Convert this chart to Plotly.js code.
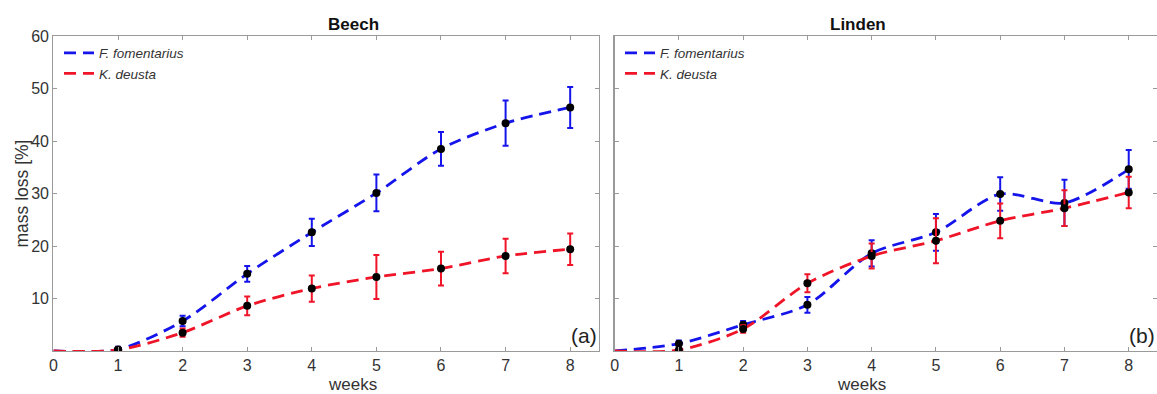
<!DOCTYPE html>
<html><head><meta charset="utf-8">
<script src="https://cdn.plot.ly/plotly-3.0.1.min.js"></script>
<style>html,body{margin:0;padding:0;background:#fff}</style>
</head><body>
<div id="chart" style="width:1157px;height:394px"></div>
<script>
// weeks
const weeks = [0, 1, 2, 3, 4, 5, 6, 7, 8];
const weeksMeasured = [1, 2, 3, 4, 5, 6, 7, 8];

// Beech
const beechFomMean = [0, 0.3, 5.7, 14.7, 22.6, 30.1, 38.5, 43.4, 46.4];
const beechFomErr  = [0.5, 1.0, 1.5, 2.6, 3.5, 3.2, 4.3, 3.9];
const beechDeuMean = [0, 0.2, 3.5, 8.6, 11.9, 14.1, 15.7, 18.1, 19.4];
const beechDeuErr  = [0.4, 0.8, 1.8, 2.5, 4.2, 3.2, 3.3, 3.0];

// Linden
const lindenFomMean = [0, 1.4, 5.0, 8.8, 18.6, 22.6, 29.9, 28.2, 34.6];
const lindenFomErr  = [0.6, 0.7, 1.5, 2.5, 3.5, 3.2, 4.4, 3.7];
const lindenDeuMean = [0, 0.2, 4.2, 12.9, 18.1, 21.0, 24.8, 27.2, 30.2];
const lindenDeuErr  = [0.4, 0.7, 1.7, 2.4, 4.3, 3.3, 3.4, 3.0];

const speciesNames = ['<i>F. fomentarius</i>', '<i>K. deusta</i>'];
const panelTitles = ['Beech', 'Linden'];
const panelLabels = ['(a)', '(b)'];
const xTicks = [0, 1, 2, 3, 4, 5, 6, 7, 8];
const yTicks = [10, 20, 30, 40, 50, 60];

const BLUE = 'rgb(20,20,235)';
const RED = 'rgb(240,20,40)';
const DASH = '12px,7px';

function lineTrace(y, color, name, xa, ya, legend) {
  return {x: weeks, y: y, mode: 'lines', name: name, xaxis: xa, yaxis: ya, legend: legend,
    line: {color: color, width: 2.8, dash: DASH, shape: 'spline', smoothing: 0.8}, hoverinfo: 'skip'};
}
function pointTrace(mean, err, color, xa, ya) {
  return {x: weeksMeasured, y: mean.slice(1), mode: 'markers', showlegend: false, xaxis: xa, yaxis: ya,
    marker: {color: '#000', size: 8},
    error_y: {type: 'data', array: err, visible: true, color: color, thickness: 2, width: 3}};
}

const data = [
  lineTrace(beechFomMean, BLUE, speciesNames[0], 'x', 'y', 'legend'),
  lineTrace(beechDeuMean, RED, speciesNames[1], 'x', 'y', 'legend'),
  pointTrace(beechFomMean, beechFomErr, BLUE, 'x', 'y'),
  pointTrace(beechDeuMean, beechDeuErr, RED, 'x', 'y'),
  lineTrace(lindenFomMean, BLUE, speciesNames[0], 'x2', 'y2', 'legend2'),
  lineTrace(lindenDeuMean, RED, speciesNames[1], 'x2', 'y2', 'legend2'),
  pointTrace(lindenFomMean, lindenFomErr, BLUE, 'x2', 'y2'),
  pointTrace(lindenDeuMean, lindenDeuErr, RED, 'x2', 'y2'),
];

const axisCommon = {
  showgrid: false, zeroline: false, showline: true, linecolor: '#9a9a9a', linewidth: 1.2,
  mirror: 'ticks', ticks: 'inside', ticklen: 4, tickcolor: '#9a9a9a',
  tickfont: {size: 16, color: '#333'}, fixedrange: true
};

const legendCommon = {
  bgcolor: 'rgba(255,255,255,0)', font: {size: 13.5, color: '#333'},
  xanchor: 'left', yanchor: 'top', tracegroupgap: 0, itemwidth: 30
};

const layout = {
  width: 1157, height: 394,
  margin: {l: 0, r: 0, t: 36, b: 43},
  paper_bgcolor: '#fff', plot_bgcolor: '#fff',
  font: {family: 'Liberation Sans, Arial, sans-serif', color: '#222'},
  xaxis: Object.assign({}, axisCommon, {domain: [53.4/1157, 599/1157], range: [0, 8.446],
    tickvals: xTicks, anchor: 'y'}),
  yaxis: Object.assign({}, axisCommon, {range: [0, 60], tickvals: yTicks, anchor: 'x'}),
  xaxis2: Object.assign({}, axisCommon, {domain: [614.6/1157, 1], range: [0, 8.44],
    tickvals: xTicks, anchor: 'y2'}),
  yaxis2: Object.assign({}, axisCommon, {range: [0, 60], tickvals: yTicks, anchor: 'x2', showticklabels: false}),
  legend: Object.assign({}, legendCommon, {x: 59/1157, y: 0.995}),
  legend2: Object.assign({}, legendCommon, {x: 620/1157, y: 0.995}),
  annotations: [
    {text: '<b>' + panelTitles[0] + '</b>', xref: 'paper', yref: 'paper', x: 326/1157, y: 1.038, showarrow: false,
     font: {size: 17, color: '#111'}, yanchor: 'middle'},
    {text: '<b>' + panelTitles[1] + '</b>', xref: 'paper', yref: 'paper', x: 888/1157, y: 1.038, showarrow: false,
     font: {size: 17, color: '#111'}, yanchor: 'middle'},
    {text: panelLabels[0], xref: 'x domain', yref: 'y', x: 1.0, y: 3.0, xanchor: 'right', yanchor: 'middle',
     showarrow: false, font: {size: 21, color: '#222'}},
    {text: panelLabels[1], xref: 'x2 domain', yref: 'y2', x: 1.0, y: 3.0, xanchor: 'right', yanchor: 'middle',
     showarrow: false, font: {size: 21, color: '#222'}},
    {text: 'weeks', xref: 'paper', yref: 'paper', x: 326/1157, y: -0.106, showarrow: false,
     font: {size: 17, color: '#333'}, yanchor: 'middle'},
    {text: 'weeks', xref: 'paper', yref: 'paper', x: 888/1157, y: -0.106, showarrow: false,
     font: {size: 17, color: '#333'}, yanchor: 'middle'},
    {text: 'mass loss [%]', xref: 'paper', yref: 'paper', x: 21/1157, y: 0.5, textangle: -90, showarrow: false,
     font: {size: 17.5, color: '#333'}, xanchor: 'center', yanchor: 'middle'}
  ]
};

Plotly.newPlot('chart', data, layout, {displayModeBar: false, staticPlot: true});
</script>
</body></html>
